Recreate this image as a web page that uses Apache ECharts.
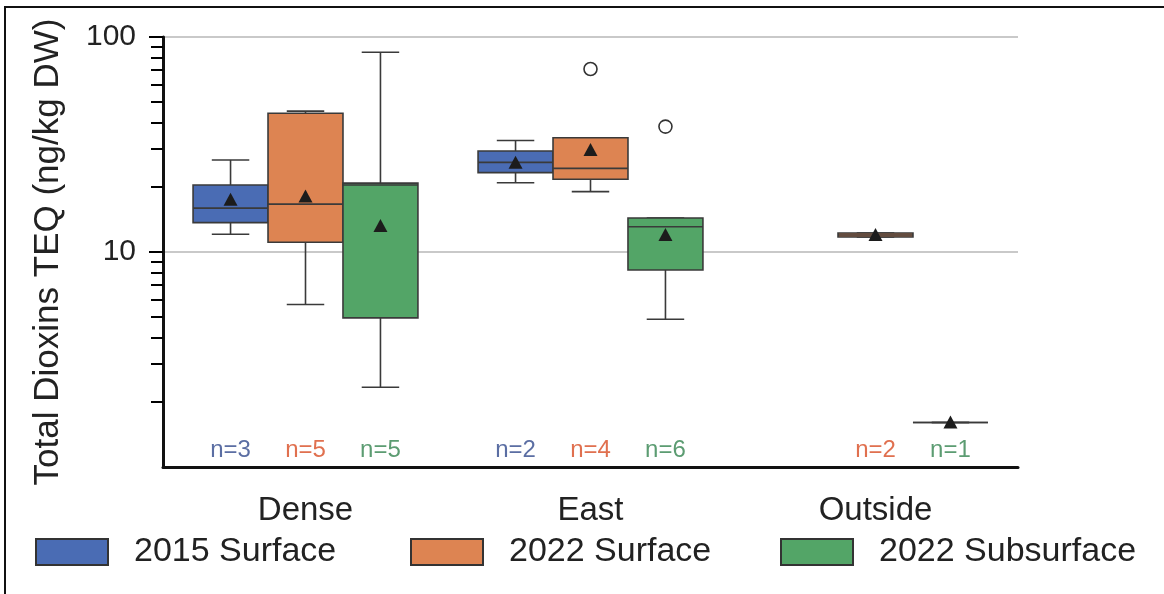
<!DOCTYPE html>
<html><head><meta charset="utf-8">
<script src="https://cdn.jsdelivr.net/npm/echarts@6.0.0/dist/echarts.min.js"></script>
<style>html,body{margin:0;padding:0;background:#fff}#c{width:1164px;height:594px}</style>
</head><body><div id="c"></div>
<script>
// ---- data ----
const categories = ['Dense', 'East', 'Outside'];
const seriesNames = ['2015 Surface', '2022 Surface', '2022 Subsurface'];
// [min, q1, median, q3, max] per category; null = no samples
const stats2015Surface = [[12.1, 13.7, 16.0, 20.5, 26.8], [21.0, 23.4, 26.1, 29.5, 33.0], null];
const stats2022Surface = [[5.7, 11.1, 16.7, 44.2, 45.2], [19.1, 21.8, 24.5, 34.0, 34.0], [11.75, 11.75, 12.0, 12.25, 12.25]];
const stats2022Subsurface = [[2.35, 4.94, 20.5, 20.9, 84.9], [4.87, 8.25, 13.1, 14.4, 14.4], [1.61, 1.61, 1.61, 1.61, 1.61]];
const means2015Surface = [17.5, 26.0, null];
const means2022Surface = [18.1, 29.8, 12.0];
const means2022Subsurface = [13.2, 12.0, 1.61];
const counts2015Surface = [3, 2, null];
const counts2022Surface = [5, 4, 2];
const counts2022Subsurface = [5, 6, 1];
// outliers: [categoryIndex, value]
const outliers2015Surface = [];
const outliers2022Surface = [[1, 71.0]];
const outliers2022Subsurface = [[1, 38.3]];
const yMajorLabels = [10, 100];
const yMinorTicks = [2, 3, 4, 5, 6, 7, 8, 9, 20, 30, 40, 50, 60, 70, 80, 90];

// ---- styling ----
const FONT = 'Liberation Sans, Arial, sans-serif';
const boxColors = ['#4a6cb4', '#dd8452', '#53a567'];
const countColors = ['#5b6ea3', '#e0704f', '#5c9c72'];
const groupOffsets = [-0.263, 0, 0.263];
const boxFrac = 0.263;
const edge = '#3a3a3a';

const allStats = [stats2015Surface, stats2022Surface, stats2022Subsurface];
const allMeans = [means2015Surface, means2022Surface, means2022Subsurface];
const allCounts = [counts2015Surface, counts2022Surface, counts2022Subsurface];
const allOutliers = [outliers2015Surface, outliers2022Surface, outliers2022Subsurface];

function boxRender(s) {
  return function (params, api) {
    const cat = api.value(0);
    const v = [1, 2, 3, 4, 5].map(i => api.value(i));
    const mean = api.value(6);
    const n = api.value(7);
    const band = api.size([1, 0])[0];
    const cx = api.coord([cat, 1])[0] + groupOffsets[s] * band;
    const baseY = api.coord([cat, 1])[1];
    const hw = boxFrac * band / 2;
    const cw = hw * 0.5;
    const y = v.map(val => api.coord([cat, val])[1]);
    const ls = { stroke: edge, lineWidth: 1.6 };
    const ym = api.coord([cat, mean])[1];
    return {
      type: 'group',
      children: [
        { type: 'line', shape: { x1: cx, y1: y[4], x2: cx, y2: y[3] }, style: ls },
        { type: 'line', shape: { x1: cx, y1: y[1], x2: cx, y2: y[0] }, style: ls },
        { type: 'line', shape: { x1: cx - cw, y1: y[4], x2: cx + cw, y2: y[4] }, style: ls },
        { type: 'line', shape: { x1: cx - cw, y1: y[0], x2: cx + cw, y2: y[0] }, style: ls },
        { type: 'rect', shape: { x: cx - hw, y: y[3], width: 2 * hw, height: y[1] - y[3] },
          style: { fill: boxColors[s], stroke: edge, lineWidth: 1.6 } },
        { type: 'line', shape: { x1: cx - hw, y1: y[2], x2: cx + hw, y2: y[2] }, style: ls },
        { type: 'polygon', shape: { points: [[cx, ym - 7], [cx - 7, ym + 6], [cx + 7, ym + 6]] },
          style: { fill: '#1c1c1c' } },
        { type: 'text', x: cx, y: baseY - 17,
          style: { text: 'n=' + n, fill: countColors[s], fontSize: 24, fontFamily: FONT,
                   align: 'center', verticalAlign: 'middle' } }
      ]
    };
  };
}

function outlierRender(s) {
  return function (params, api) {
    const cat = api.value(0);
    const band = api.size([1, 0])[0];
    const p = api.coord([cat, api.value(1)]);
    return { type: 'circle', shape: { cx: p[0] + groupOffsets[s] * band, cy: p[1], r: 6.5 },
             style: { fill: 'none', stroke: '#333', lineWidth: 1.6 } };
  };
}

const series = [];
seriesNames.forEach((name, s) => {
  const data = [];
  allStats[s].forEach((st, c) => {
    if (st) data.push([c, ...st, allMeans[s][c], allCounts[s][c]]);
  });
  series.push({
    name, type: 'custom', renderItem: boxRender(s), data,
    itemStyle: { color: boxColors[s] },
    encode: { x: 0, y: [1, 2, 3, 4, 5] }, z: 3
  });
});
seriesNames.forEach((name, s) => {
  if (!allOutliers[s].length) return;
  series.push({
    name: 'outliers ' + name, type: 'custom', renderItem: outlierRender(s),
    data: allOutliers[s], encode: { x: 0, y: 1 }, z: 4
  });
});

const frame = {
  id: 'frame', type: 'rect', silent: true, z: 100,
  shape: { x: 5, y: 7, width: 1200, height: 620 },
  style: { fill: 'none', stroke: '#111', lineWidth: 2 }
};

const legendLefts = [30, 405, 775];
const option = {
  animation: false,
  backgroundColor: '#fff',
  textStyle: { fontFamily: FONT },
  grid: { left: 163, right: 146, top: 37, bottom: 127, containLabel: false },
  legend: seriesNames.map((nm, i) => ({
    data: [nm], left: legendLefts[i], top: 530, orient: 'horizontal',
    itemWidth: 72, itemHeight: 26, icon: 'rect', selectedMode: false,
    itemStyle: { borderColor: '#333', borderWidth: 2 },
    textStyle: { fontSize: 34, color: '#222', fontFamily: FONT, padding: [0, 0, 0, 21] }
  })),
  xAxis: {
    type: 'category', data: categories, boundaryGap: true,
    axisLine: { lineStyle: { color: '#111', width: 3 } },
    axisTick: { alignWithLabel: true, length: 10, lineStyle: { color: '#111', width: 3 } },
    axisLabel: { fontSize: 33, color: '#222', margin: 27, fontFamily: FONT },
    splitLine: { show: false }
  },
  yAxis: {
    type: 'log', logBase: 10, min: 1, max: 100,
    name: 'Total Dioxins TEQ (ng/kg DW)', nameLocation: 'middle', nameGap: 97,
    nameTextStyle: { fontSize: 35, color: '#222', fontFamily: FONT },
    axisLine: { show: true, lineStyle: { color: '#111', width: 3 } },
    axisTick: { show: false },
    axisLabel: {
      fontSize: 30, color: '#222', margin: 27, fontFamily: FONT,
      formatter: function (v) {
        const r = Math.round(v);
        return yMajorLabels.indexOf(r) >= 0 ? String(r) : '';
      }
    },
    splitLine: { show: true, lineStyle: { color: '#c9c9c9', width: 2 } },
    minorTick: { show: false }
  },
  graphic: [frame],
  series
};
const chart = echarts.init(document.getElementById('c'), null, { renderer: 'canvas' });
chart.setOption(option);

// y-axis major and minor ticks, placed through the axis scale
const pc0 = chart.convertToPixel({ xAxisIndex: 0, yAxisIndex: 0 }, [0, 10]);
const pc1 = chart.convertToPixel({ xAxisIndex: 0, yAxisIndex: 0 }, [1, 10]);
const axisX = Math.round(pc0[0] - (pc1[0] - pc0[0]) / 2);
const tickEls = [];
const addTick = (val, len, w, id) => {
  const py = Math.round(chart.convertToPixel({ yAxisIndex: 0 }, val));
  tickEls.push({
    id: 'tick' + id, type: 'line', silent: true, z: 50,
    shape: { x1: axisX - len, y1: py, x2: axisX, y2: py },
    style: { stroke: '#000', lineWidth: 2 }
  });
};
yMinorTicks.forEach((v, i) => addTick(v, 12, 2, 'm' + i));
yMajorLabels.forEach((v, i) => addTick(v, 14, 2, 'M' + i));
chart.setOption({ graphic: [frame].concat(tickEls) });
</script></body></html>
